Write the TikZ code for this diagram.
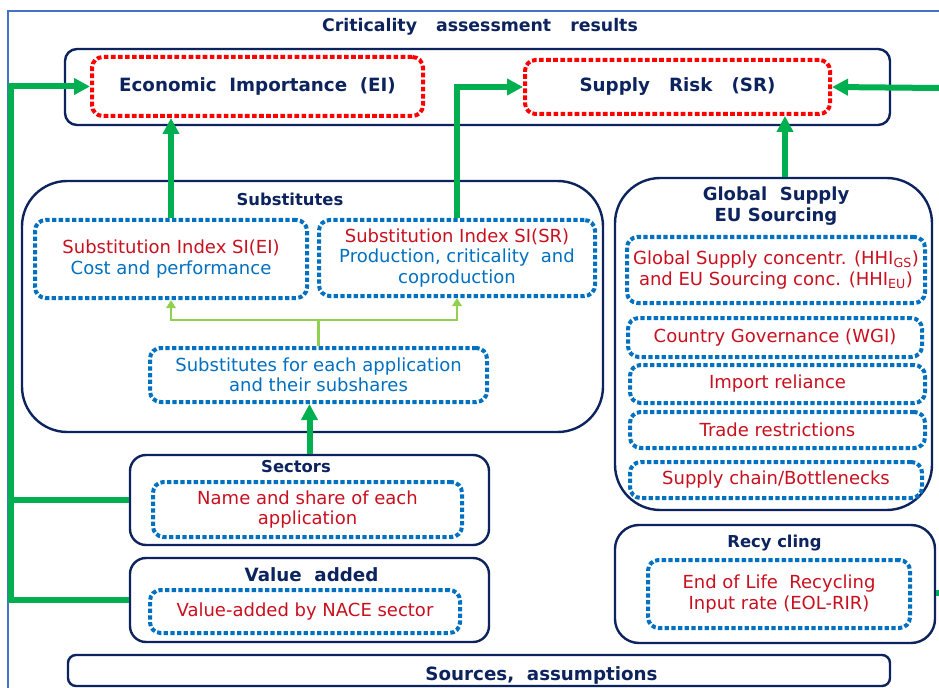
\documentclass[tikz,border=0pt]{standalone}
\usepackage{fontspec}
\setmainfont{DejaVu Sans}
\usetikzlibrary{positioning,arrows.meta}
\definecolor{navy}{RGB}{12,35,94}
\definecolor{dotred}{RGB}{255,0,0}
\definecolor{dotblue}{RGB}{0,112,192}
\definecolor{txtred}{RGB}{200,16,30}
\definecolor{txtblue}{RGB}{0,112,192}
\definecolor{grn}{RGB}{0,176,80}
\definecolor{lgrn}{RGB}{146,208,80}
\definecolor{framec}{RGB}{68,114,196}

\begin{document}
\begin{tikzpicture}[x=0.75pt,y=-0.75pt,
    box/.style={draw=navy, line width=1.8pt, rounded corners=9pt, inner sep=0pt},
    redbox/.style={draw=dotred, line width=3pt, dash pattern=on 3.5pt off 1.8pt, rounded corners=8pt,
        inner sep=0pt, text=navy, font=\bfseries\fontsize{13.7}{16}\selectfont},
    bluebox/.style={draw=dotblue, line width=3pt, dash pattern=on 3.2pt off 1.8pt, rounded corners=8pt,
        inner sep=0pt, align=center, text=txtred, font=\fontsize{13.5}{15.3}\selectfont},
    ttl/.style={text=navy, align=center, font=\bfseries\fontsize{12.3}{15}\selectfont},
    bigttl/.style={ttl, font=\bfseries\fontsize{13.7}{16}\selectfont},
    gline/.style={draw=grn, line width=4.5pt},
    garr/.style={gline, -{Triangle[length=12pt,width=12pt]}},
    lgarr/.style={draw=lgrn, line width=2.2pt, -{Triangle[length=6pt,width=7pt]}}
]
\useasboundingbox[fill=white] (0,0) rectangle (939,688);
\draw[framec, line width=0.8pt] (8,688) -- (8,11) -- (939,11);

% results
\node[ttl, font=\bfseries\fontsize{13}{15}\selectfont] (title) at (480,27)
    {Criticality\hspace{1.1em}assessment\hspace{1.1em}results};
\node[box, minimum width=618.75pt, minimum height=57pt] (res) at (477.5,87) {};
\node[redbox, minimum width=248.25pt, minimum height=44.25pt] (ei) at (257.5,86.5)
    {Economic~~Importance~~(EI)};
\node[redbox, minimum width=228.75pt, minimum height=40.5pt] (sr) at (677.5,87)
    {Supply~~~Risk~~~(SR)};

% substitutes
\node[box, rounded corners=34pt, minimum width=435.75pt, minimum height=188.25pt] (subs) at (312.5,306.5) {};
\node[ttl] (substtl) at (290,199) {Substitutes};
\node[bluebox, minimum width=204pt, minimum height=58.5pt] (siei) at (171,259)
    {Substitution Index SI(EI)\\\textcolor{txtblue}{Cost and performance}};
\node[bluebox, minimum width=207pt, minimum height=57pt] (sisr) at (457,258)
    {Substitution Index SI(SR)\\\textcolor{txtblue}{Production, criticality~ and}\\\textcolor{txtblue}{coproduction}};
\node[bluebox, text=txtblue, minimum width=252.75pt, minimum height=40.5pt] (subsh) at (318.5,375)
    {Substitutes for each application\\and their subshares};

% sectors and value added
\node[box, rounded corners=12pt, minimum width=269.25pt, minimum height=67.5pt] (sec) at (309.5,500) {};
\node[ttl] (sectl) at (296,467) {Sectors};
\node[bluebox, minimum width=231.75pt, minimum height=41.25pt] (secin) at (307.5,509.5)
    {Name and share of each\\application};
\node[box, rounded corners=12pt, minimum width=269.25pt, minimum height=63pt] (va) at (309.5,600) {};
\node[bigttl] (vatl) at (311.5,575) {Value~ added};
\node[bluebox, minimum width=232.5pt, minimum height=32.25pt] (vain) at (305,611.5)
    {Value-added by NACE sector};

% global supply
\node[box, rounded corners=34pt, minimum width=237.75pt, minimum height=249pt] (glob) at (773.5,344) {};
\node[bigttl, font=\bfseries\fontsize{13.5}{15.75}\selectfont] (globtl) at (776,206.5) {Global~ Supply\\EU Sourcing};
\node[bluebox, minimum width=223.5pt, minimum height=49.5pt] (g1) at (776,270)
    {Global Supply concentr. (HHI\textsubscript{GS})\\and EU Sourcing conc. (HHI\textsubscript{EU})};
\node[bluebox, minimum width=220.5pt, minimum height=29.25pt] (g2) at (775,337.5) {Country Governance (WGI)};
\node[bluebox, minimum width=221.25pt, minimum height=28.5pt] (g3) at (777.5,384) {Import reliance};
\node[bluebox, minimum width=221.25pt, minimum height=27pt] (g4) at (777.5,430) {Trade restrictions};
\node[bluebox, minimum width=219pt, minimum height=27pt] (g5) at (776,480) {Supply chain/Bottlenecks};

% recycling
\node[box, rounded corners=18pt, minimum width=240pt, minimum height=88.5pt] (rec) at (775,584) {};
\node[ttl] (rectl) at (774.5,543) {Recy cling};
\node[bluebox, minimum width=196.5pt, minimum height=51pt] (recin) at (779,594)
    {End of Life~ Recycling\\Input rate (EOL-RIR)};

% sources
\node[box, rounded corners=6pt, minimum width=616.5pt, minimum height=23.25pt] (src) at (479,670.5) {};
\node[bigttl] (srctl) at (541.5,675) {Sources,~ assumptions};

% connectors
\coordinate (rin) at (939,88);
\draw[garr] (va.west) -- ++(-118,0) |- (ei.west);
\draw[gline] (sec.west) -- ++(-118,0);
\draw[garr] (siei.north) -- (siei.north |- ei.south);
\draw[garr] (sisr.north) |- (sr.west);
\draw[garr] ([xshift=8.6pt]glob.north) -- ([xshift=8.6pt]glob.north |- sr.south);
\draw[garr] (rin) -- (sr.east);
\draw[gline] ([yshift=-6.75pt]rec.east) -- ++(6,0);
\draw[garr] (sec.north) -- (sec.north |- subsh.south);
\draw[lgarr] (subsh.north) -- ++(0,-26) coordinate (lgmid) -| (siei.south);
\draw[lgarr] (lgmid) -| (sisr.south);

\end{tikzpicture}
\end{document}
